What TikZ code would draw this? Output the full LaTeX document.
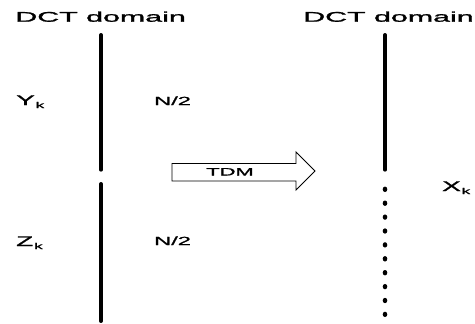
\documentclass[tikz,border=0pt]{standalone}
\usepackage{graphicx}
\usepackage{fontspec}
\setmainfont[FakeBold=1.2]{Liberation Sans}
\newcommand\hstretch[2]{\scalebox{#1}[1]{#2}}
\newcommand\bigsym[2]{\hstretch{2}{\fontsize{14}{14}\selectfont #1\kern0.4pt\raisebox{-3pt}{\fontsize{8.5}{9}\selectfont #2}}}
\begin{document}
\begin{tikzpicture}[x=1pt,y=-1pt,
  txt/.style={inner sep=0pt, anchor=base west},
  bar/.style={line width=3.3pt, line cap=round},
  dotmark/.style={fill=black}]
\useasboundingbox (0,0) rectangle (475,324);
% headings
\node[txt, anchor=base] (dl) at (100.6,21.7) {\hstretch{2.17}{\fontsize{14}{14}\selectfont DCT domain}};
\node[txt, anchor=base] (dr) at (388.5,21.7) {\hstretch{2.17}{\fontsize{14}{14}\selectfont DCT domain}};
% labels
\node[txt] (y) at (16,105) {\bigsym{Y}{k}};
\node[txt] (z) at (16,246) {\bigsym{Z}{k}};
\node[txt] (x) at (442,191) {\bigsym{X}{k}};
\node[txt] (n1) at (154,105) {\hstretch{2}{\fontsize{11.8}{12}\selectfont N/2}};
\node[txt] (n2) at (154,245) {\hstretch{2}{\fontsize{11.8}{12}\selectfont N/2}};
% left bars
\coordinate (l1a) at (101,34.7);
\coordinate (l1b) at (101,170);
\coordinate (l2a) at (101,183.7);
\coordinate (l2b) at (101,321.3);
\draw[bar] (l1a) -- (l1b);
\draw[bar] (l2a) -- (l2b);
% right bar
\coordinate (r1a) at (385,34.7);
\coordinate (r1b) at (385,170);
\draw[bar] (r1a) -- (r1b);
\foreach \i in {0,...,9}
  \fill[dotmark] (385,189.3+13.9*\i) ellipse (2.3pt and 2.7pt);
% TDM arrow
\draw[line width=0.9pt, line join=miter]
  (172,163.5) -- (296,163.5) -- (296,152) -- (315,171) -- (296,190) -- (296,181) -- (172,181) -- cycle;
\node[inner sep=0pt, anchor=base] (tdm) at (230,175.5) {\hstretch{2.05}{\fontsize{10.7}{11}\selectfont TDM}};
\end{tikzpicture}
\end{document}
